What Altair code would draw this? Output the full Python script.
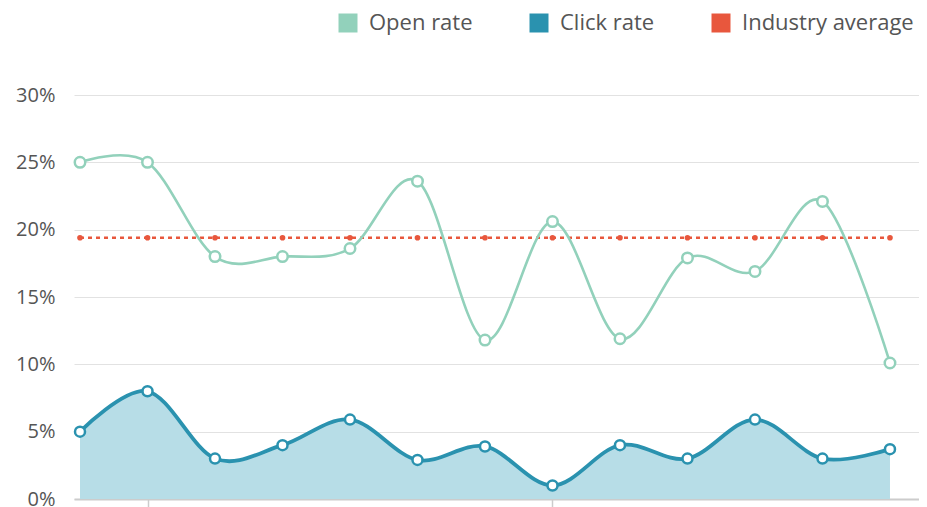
import altair as alt
import pandas as pd

# ---- data ----
idx = [0, 1, 2, 3, 4, 5, 6, 7, 8, 9, 10, 11, 12]
open_rate = [25.0, 25.0, 18.0, 18.0, 18.6, 23.6, 11.8, 20.6, 11.9, 17.9, 16.9, 22.1, 10.1]
click_rate = [5.0, 8.0, 3.0, 4.0, 5.9, 2.9, 3.9, 1.0, 4.0, 3.0, 5.9, 3.0, 3.7]
industry_avg = [19.4, 19.4, 19.4, 19.4, 19.4, 19.4, 19.4, 19.4, 19.4, 19.4, 19.4, 19.4, 19.4]
series_names = ["Open rate", "Click rate", "Industry average"]
series_colors = ["#92d1bb", "#2a92af", "#e8573d"]
y_ticks = [0, 5, 10, 15, 20, 25, 30]
x_ticks = [1, 7]

rows = []
for name, vals in zip(series_names, [open_rate, click_rate, industry_avg]):
    for i, v in zip(idx, vals):
        rows.append({"i": i, "value": v, "series": name})
df = pd.DataFrame(rows)
open_df = df[df.series == "Open rate"]
click_df = df[df.series == "Click rate"]
ind_df = df[df.series == "Industry average"]
OPEN_C, CLICK_C, IND_C = series_colors

FONT = "Open Sans"
INTERP = "cardinal"
xs = alt.Scale(domain=[-0.089, 12.43], nice=False, zero=False)
ys = alt.Scale(domain=[0, 30], nice=False)

x_enc = alt.X("i:Q", scale=xs,
              axis=alt.Axis(values=x_ticks, labels=False, grid=False, title=None,
                            domainColor="#cccccc", domainWidth=2,
                            tickColor="#cccccc", tickWidth=1.5, tickSize=8))
y_enc = alt.Y("value:Q", scale=ys,
              axis=alt.Axis(values=y_ticks, labelExpr="datum.value + '%'", title=None,
                            domain=False, ticks=False, gridColor="#e2e2e2",
                            labelFont=FONT, labelFontSize=20, labelColor="#555555",
                            labelPadding=19))

color_scale = alt.Scale(domain=series_names, range=series_colors)

area = alt.Chart(click_df).mark_area(interpolate=INTERP, color="#b7dde7", opacity=1).encode(
    x=x_enc, y=y_enc)

ind_line = alt.Chart(ind_df).mark_line(strokeWidth=2.5, strokeDash=[4, 4], color=IND_C).encode(
    x=x_enc, y=y_enc)

ind_dots = alt.Chart(ind_df).mark_circle(size=32, opacity=1).encode(
    x=x_enc, y=y_enc,
    color=alt.Color("series:N", scale=color_scale,
                    legend=alt.Legend(title=None, orient="none", legendX=263, legendY=-83,
                                      direction="horizontal", symbolType="square",
                                      symbolSize=361, labelFont=FONT, labelFontSize=22,
                                      labelColor="#555555", labelOffset=10,
                                      labelLimit=300, columnPadding=55)))

open_line = alt.Chart(open_df).mark_line(interpolate=INTERP, strokeWidth=2.6, color=OPEN_C).encode(
    x=x_enc, y=y_enc)
click_line = alt.Chart(click_df).mark_line(interpolate=INTERP, strokeWidth=3.8, color=CLICK_C).encode(
    x=x_enc, y=y_enc)

open_pts = alt.Chart(open_df).mark_point(filled=False, fill="white", stroke=OPEN_C, size=110,
                                         strokeWidth=2.5, opacity=1).encode(x=x_enc, y=y_enc)
click_pts = alt.Chart(click_df).mark_point(filled=False, fill="white", stroke=CLICK_C, size=100,
                                           strokeWidth=2.5, opacity=1).encode(x=x_enc, y=y_enc)

chart = alt.layer(area, ind_line, ind_dots, open_line, click_line, open_pts, click_pts).properties(
    width=845, height=404,
    autosize=alt.AutoSizeParams(type="none"),
    padding={"left": 66, "top": 87, "right": 0, "bottom": 8},
).configure(font=FONT).configure_view(stroke=None)

chart.save("out.html", embed_options={"renderer": "svg", "actions": False})
